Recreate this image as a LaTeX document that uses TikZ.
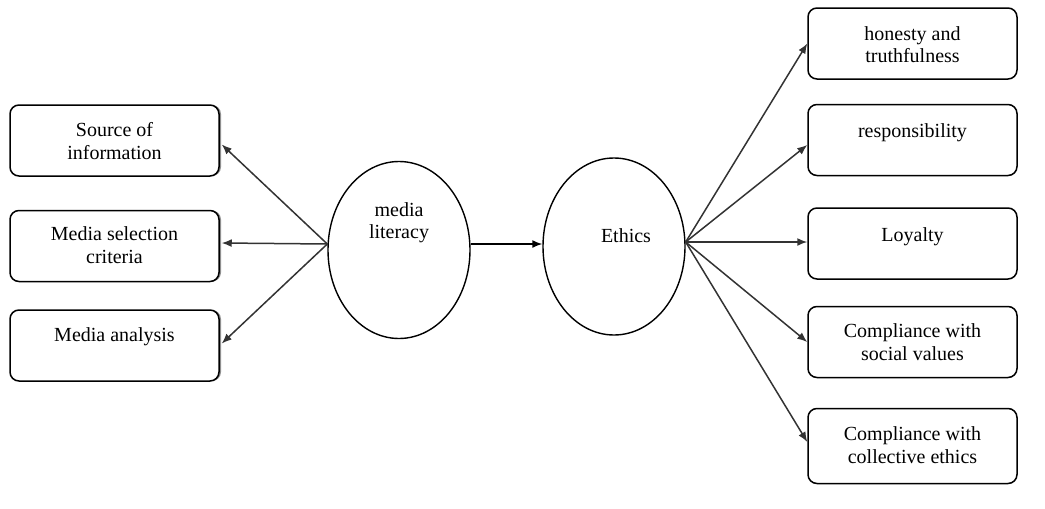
\documentclass[tikz,border=0pt]{standalone}
\usepackage{fontspec}
\setmainfont{Liberation Serif}
\usetikzlibrary{shapes.geometric,arrows.meta,shadows}
\begin{document}
\begin{tikzpicture}[x=1pt,y=-1pt,
  box/.style={draw=black,fill=white,line width=1.5pt,rounded corners=9pt,minimum width=209pt,minimum height=71pt,inner sep=0pt},
  sbox/.style={box,drop shadow={shadow xshift=2pt,shadow yshift=0pt,fill=black!55,opacity=0.8}},
  oval/.style={draw=black,line width=1.4pt,ellipse,inner sep=0pt,minimum width=142pt,minimum height=177pt},
  txt/.style={font=\fontsize{20}{22.5}\selectfont,align=center,inner sep=0pt,anchor=north},
  arr/.style={draw=black!80,line width=1.5pt,-{Latex[length=10pt,width=8pt]}},
]
\useasboundingbox (0,0) rectangle (1045,509);

% left boxes
\node[sbox] (src) at (114.5,140.5) {};
\node[sbox] (sel) at (114.5,246) {};
\node[sbox] (ana) at (114.5,345.5) {};
\node[txt] (srcT) at ([yshift=-18pt]src.north) {Source of\\information};
\node[txt] (selT) at ([yshift=-17pt]sel.north) {Media selection\\criteria};
\node[txt] (anaT) at ([yshift=-18pt]ana.north) {Media analysis};

% ellipses
\node[oval] (ml) at (399,250) {};
\node[oval] (eth) at (614,246.5) {};
\node[txt] (mlT) at (399,202) {media\\literacy};
\node[txt] (ethT) at (626,228) {Ethics};

% right boxes
\node[box] (hon) at (912.5,43.5) {};
\node[box] (res) at (912.5,140) {};
\node[box] (loy) at (912.5,243.5) {};
\node[box] (soc) at (912.5,342) {};
\node[box,minimum height=75pt] (col) at (912.5,446) {};
\node[txt] (honT) at ([yshift=-19pt]hon.north) {honesty and\\truthfulness};
\node[txt] (resT) at ([yshift=-20pt]res.north) {responsibility};
\node[txt] (loyT) at ([yshift=-20pt]loy.north) {Loyalty};
\node[txt] (socT) at ([yshift=-18pt]soc.north) {Compliance with\\social values};
\node[txt] (colT) at ([yshift=-19pt]col.north) {Compliance with\\collective ethics};

% connectors
\coordinate (mlL) at ([yshift=6pt]ml.west);
\coordinate (ethR) at ([yshift=4.5pt]eth.east);
\draw[arr] (mlL) -- ([xshift=2pt,yshift=-4pt]src.east);
\draw[arr] (mlL) -- ([xshift=2pt,yshift=3pt]sel.east);
\draw[arr] (mlL) -- ([xshift=2pt,yshift=2pt]ana.east);
\draw[arr,draw=black] ([yshift=6pt]ml.east) -- ([yshift=2.5pt]eth.west);
\draw[arr] (ethR) -- (hon.west);
\draw[arr] (ethR) -- ([yshift=-5pt]res.west);
\draw[arr] (ethR) -- ([yshift=1.5pt]loy.west);
\draw[arr] (ethR) -- (soc.west);
\draw[arr] (ethR) -- ([yshift=4pt]col.west);
\end{tikzpicture}
\end{document}
